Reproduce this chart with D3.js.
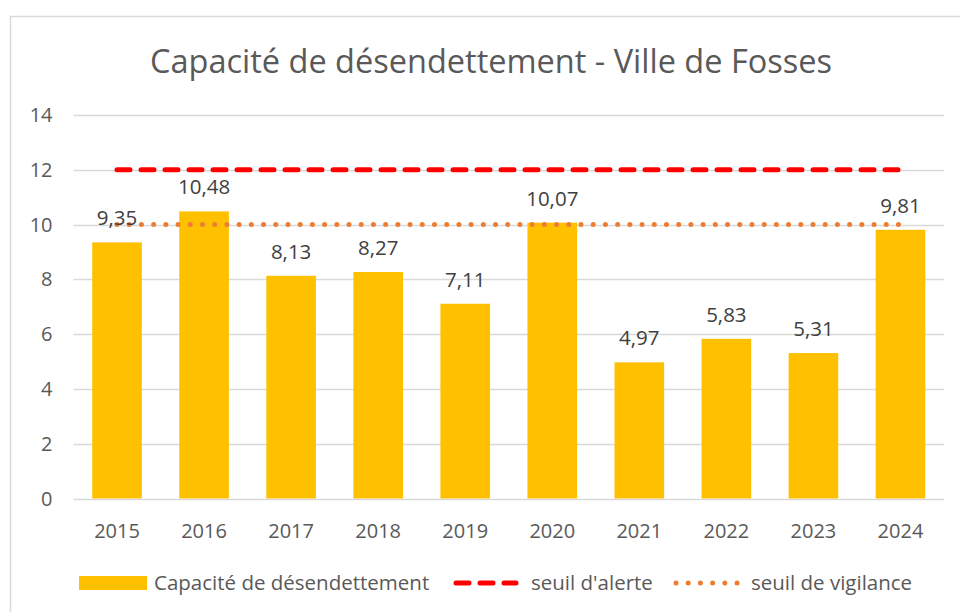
<!DOCTYPE html>
<html>
<head>
<meta charset="utf-8">
<script src="https://cdn.jsdelivr.net/npm/d3@7"></script>
<style>
  body { margin: 0; background: #fff; }
  text { font-family: "Open Sans", "Noto Sans", sans-serif; }
</style>
</head>
<body>
<div id="chart"></div>
<script>
// data
const years = ["2015", "2016", "2017", "2018", "2019", "2020", "2021", "2022", "2023", "2024"];
const capacite = [9.35, 10.48, 8.13, 8.27, 7.11, 10.07, 4.97, 5.83, 5.31, 9.81];
const seuilAlerte = [12, 12, 12, 12, 12, 12, 12, 12, 12, 12];
const seuilVigilance = [10, 10, 10, 10, 10, 10, 10, 10, 10, 10];
const yTicks = [0, 2, 4, 6, 8, 10, 12, 14];
const seriesNames = ["Capacité de désendettement", "seuil d'alerte", "seuil de vigilance"];

const W = 960, H = 612;
const margin = {top: 115, right: 16, bottom: 113.5, left: 73.5};
const width = W - margin.left - margin.right;
const height = H - margin.top - margin.bottom;

const svg = d3.select("#chart").append("svg")
    .attr("width", W)
    .attr("height", H);

// chart frame
svg.append("rect")
    .attr("x", 10.5).attr("y", 16.5)
    .attr("width", 960).attr("height", 620)
    .attr("fill", "none")
    .attr("stroke", "#d9d9d9")
    .attr("stroke-width", 1.5);

svg.append("text")
    .attr("x", 491).attr("y", 73)
    .attr("text-anchor", "middle")
    .attr("font-size", 32.5)
    .attr("fill", "#595959")
    .text("Capacité de désendettement - Ville de Fosses");

const g = svg.append("g")
    .attr("transform", "translate(" + margin.left + "," + margin.top + ")");

const x = d3.scaleBand().domain(years).range([0, width]).paddingInner(0.43).paddingOuter(0.215);
const y = d3.scaleLinear().domain([0, 14]).range([height, 0]);

// gridlines
g.selectAll(".grid")
    .data(yTicks)
    .enter().append("line")
    .attr("x1", 0).attr("x2", width)
    .attr("y1", d => Math.round(y(d)) + 0.5)
    .attr("y2", d => Math.round(y(d)) + 0.5)
    .attr("stroke", "#d9d9d9")
    .attr("stroke-width", 1.5);

// y labels
g.selectAll(".ylab")
    .data(yTicks)
    .enter().append("text")
    .attr("x", -21)
    .attr("y", d => y(d) + 7)
    .attr("text-anchor", "end")
    .attr("font-size", 20)
    .attr("fill", "#595959")
    .text(d => d);

// bars
g.selectAll(".bar")
    .data(capacite)
    .enter().append("rect")
    .attr("x", (d, i) => x(years[i]))
    .attr("y", d => y(d))
    .attr("width", x.bandwidth())
    .attr("height", d => height - y(d))
    .attr("fill", "#FFC000");

// x labels
g.selectAll(".xlab")
    .data(years)
    .enter().append("text")
    .attr("x", d => x(d) + x.bandwidth() / 2)
    .attr("y", height + 39)
    .attr("text-anchor", "middle")
    .attr("font-size", 20)
    .attr("fill", "#595959")
    .text(d => d);

// threshold lines
const line = d3.line()
    .x((d, i) => x(years[i]) + x.bandwidth() / 2)
    .y(d => y(d));

g.append("path")
    .datum(seuilAlerte)
    .attr("d", line)
    .attr("fill", "none")
    .attr("stroke", "#FF0000")
    .attr("stroke-width", 5)
    .attr("stroke-linecap", "round")
    .attr("stroke-dasharray", "13,11");

g.append("path")
    .datum(seuilVigilance)
    .attr("d", line)
    .attr("fill", "none")
    .attr("stroke", "#ED7D31")
    .attr("stroke-width", 5)
    .attr("stroke-linecap", "round")
    .attr("stroke-dasharray", "0.01,12.2");

// data labels
g.selectAll(".vlab")
    .data(capacite)
    .enter().append("text")
    .attr("x", (d, i) => x(years[i]) + x.bandwidth() / 2)
    .attr("y", d => y(d) - 17)
    .attr("text-anchor", "middle")
    .attr("font-size", 20.5)
    .attr("fill", "#404040")
    .text(d => d.toFixed(2).replace(".", ","));

// legend
const leg = svg.append("g");
const ly = 583;

leg.append("rect")
    .attr("x", 79).attr("y", ly - 7)
    .attr("width", 68).attr("height", 14)
    .attr("fill", "#FFC000");
leg.append("text")
    .attr("x", 154).attr("y", ly + 7)
    .attr("font-size", 20.5).attr("fill", "#595959")
    .text(seriesNames[0]);

leg.append("line")
    .attr("x1", 456).attr("x2", 516)
    .attr("y1", ly).attr("y2", ly)
    .attr("stroke", "#FF0000")
    .attr("stroke-width", 5)
    .attr("stroke-linecap", "round")
    .attr("stroke-dasharray", "13,11");
leg.append("text")
    .attr("x", 531).attr("y", ly + 7)
    .attr("font-size", 20.5).attr("fill", "#595959")
    .text(seriesNames[1]);

leg.append("line")
    .attr("x1", 676).attr("x2", 740)
    .attr("y1", ly).attr("y2", ly)
    .attr("stroke", "#ED7D31")
    .attr("stroke-width", 5)
    .attr("stroke-linecap", "round")
    .attr("stroke-dasharray", "0.01,12.2");
leg.append("text")
    .attr("x", 751).attr("y", ly + 7)
    .attr("font-size", 20.5).attr("fill", "#595959")
    .text(seriesNames[2]);
</script>
</body>
</html>
